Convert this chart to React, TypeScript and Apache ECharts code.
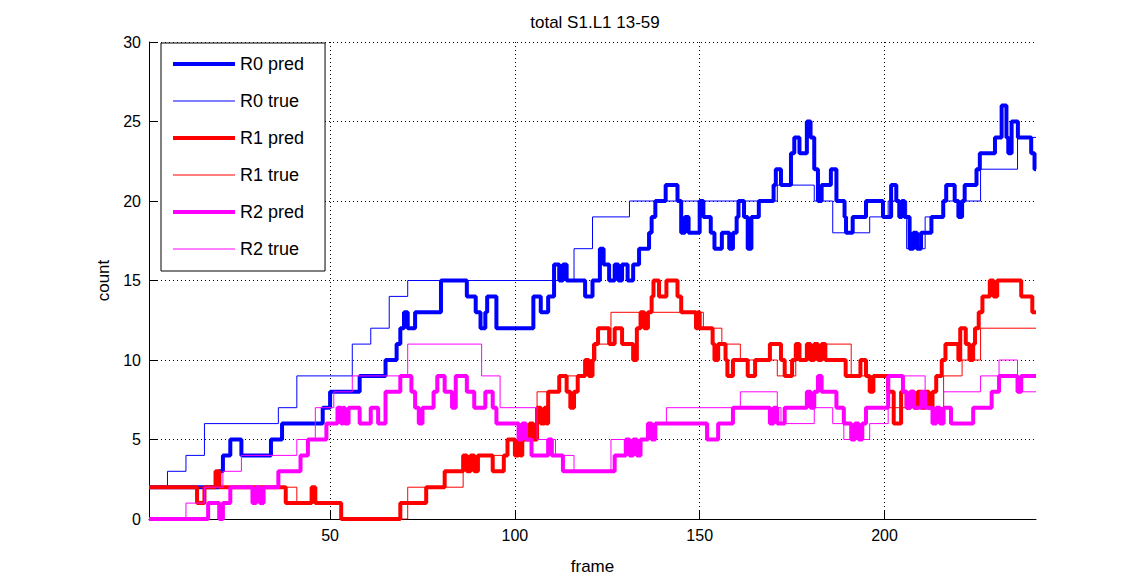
import React, { useEffect, useRef } from 'react';
import * as echarts from 'echarts';

const titleText = 'total S1.L1 13-59';
const xName = 'frame';
const yName = 'count';
const xTickValues = [50, 100, 150, 200];
const seriesNames = ['R0 pred', 'R0 true', 'R1 pred', 'R1 true', 'R2 pred', 'R2 true'];
const seriesColors = ['#0000ff', '#0000ff', '#ff0000', '#ff0000', '#ff00ff', '#ff00ff'];

// step data: [frame, count] at each change point
const r0Pred = [[1,2],[20,3],[21,4],[23,5],[26,4],[34,5],[37,6],[48,7],[50,8],[58,9],[65,10],[68,11],[69,12],[70,13],[71,12],[73,13],[80,15],[87,14],[89.4,13],[90.7,12],[92,13],[92.5,14],[95,12],[105,14],[107,13],[109,14],[110.6,16],[112,15],[113,16],[114,15],[119,14],[121,15],[123,17],[124,16],[125.5,15],[127,16],[128,15],[129,16],[130.5,15],[132,16],[133.6,17],[136.3,18],[137,19],[138,20],[140.8,21],[144,20],[145,18],[146,19],[147,18],[150,20],[151,19],[153,18],[154,17],[156,18],[158,17],[159,18],[160,19],[160.5,20],[162,19],[163,17],[164,19],[166,20],[170,21],[170.6,22],[172,21],[174.7,23],[175.6,24],[177,23],[179,25],[180,24],[181,22],[182,20],[183,21],[185.5,22],[187,20],[189.2,19],[189.6,18],[191.4,19],[195,20],[199.6,19],[201.8,21],[203.2,20],[204,19],[204.7,20],[205.4,19],[206.8,17],[207.8,18],[208.8,17],[209.9,18],[212.7,19],[215.9,20],[216.7,21],[219,20],[220,19],[221,20],[221.7,21],[224.9,22],[225.8,23],[229.9,24],[231.7,26],[233,24],[233.5,23],[234.4,25],[236.1,24],[239.7,23],[240.6,22],[241,22]];
const r0True = [[1,2],[6,3],[11,4],[16,6],[36,7],[41,9],[56,11],[61,12],[66,14],[71,15],[116,17],[121,19],[131,20],[171,21],[181,20],[186,18],[196,19],[201,20],[206,17],[211,19],[216,20],[226,22],[236,24],[241,24]];
const r1Pred = [[1,2],[14,1],[16,2],[19,3],[20,2],[38,1],[45,2],[46,1],[53,0],[69,1],[76,2],[81,3],[86,4],[87,3],[88,4],[89,3],[90,4],[94,3],[97,4],[98,5],[100,4],[101,5],[101.5,4],[102,5],[104,6],[105,5],[106,7],[107,6],[108,7],[108.5,6],[109,8],[112,9],[114,8],[115,7],[116,8],[117,9],[119,10],[120,9],[121,10],[121.5,11],[122.5,12],[125.5,11],[127,12],[129,11],[132,10],[133,12],[134,13],[135,12],[136,13],[137,14],[137.5,15],[139,14],[141,15],[144,14],[145,13],[149,12],[149.5,13],[150,12],[153.5,11],[154,10],[155,11],[157,10],[157.5,9],[159,10],[163,9],[165,10],[169,11],[172,10],[173,9],[175,10],[176,11],[177,10],[179,11],[180,10],[181,11],[182,10],[183,11],[184,10],[189.5,9],[193.5,10],[195,9],[196,8],[197,9],[201,8],[202.5,6],[204.5,8],[206,7],[207,8],[208,7],[209,8],[210,7],[211,8],[212,7],[213,8],[214,9],[215.5,10],[216.5,11],[220,10],[220.5,12],[222,11],[223,10],[224,11],[224.5,12],[225.5,13],[226.5,14],[228.5,15],[229.5,14],[230.5,15],[237,14],[240,13],[241,13]];
const r1True = [[1,2],[41,1],[53,0],[71,2],[86,4],[98,5],[104,6],[106,8],[112,9],[119,10],[121,11],[126,13],[151,12],[156,11],[161,10],[171,9],[176,10],[184,11],[191,9],[201,7],[216,9],[221,10],[226,12],[241,12]];
const r2Pred = [[1,0],[17,1],[20,0],[21,1],[23,2],[29,1],[30,2],[31,1],[32,2],[36,3],[42,4],[44,5],[49,6],[52,7],[53,6],[53.5,7],[54,6],[55,7],[58,6],[61,7],[63,6],[65,8],[69,9],[72,8],[73,7],[74,6],[75,7],[78,8],[79,9],[81,8],[83,7],[84,9],[87,8],[89,7],[92,8],[94,7],[95,6],[101,5],[102,6],[103,5],[104.5,4],[109,5],[110,4],[113,3],[127,4],[130,5],[131,4],[132,5],[133,4],[134,5],[136,6],[137,5],[138,6],[152,5],[155,6],[159,7],[169,6],[170,7],[171,6],[173,7],[179,8],[180,7],[181,8],[182,9],[183,8],[187,7],[189,6],[191,5],[192,6],[193,5],[194,6],[195,7],[201,9],[205,8],[206,7],[207,8],[208,7],[210,8],[211,7],[213,6],[214,7],[215,6],[216,7],[218,6],[224,7],[229,8],[231,9],[236,8],[237,9],[241,9]];
const r2True = [[1,0],[11,1],[16,2],[21,3],[26,4],[41,5],[46,7],[51,8],[56,9],[71,11],[91,9],[96,7],[106,5],[111,4],[116,3],[126,5],[136,6],[141,7],[161,8],[171,7],[172,6],[181,7],[186,6],[189,5],[196,6],[201,9],[211,7],[216,8],[226,9],[231,10],[236,8],[241,8]];

const seriesData = [r0Pred, r0True, r1Pred, r1True, r2Pred, r2True];
const FONT = '"Liberation Sans", Arial, Helvetica, sans-serif';

export default function App() {
  const ref = useRef<HTMLDivElement>(null);
  useEffect(() => {
    if (!ref.current) return;
    const chart = echarts.init(ref.current, undefined, { renderer: 'svg' });
    const option: any = {
      animation: false,
      backgroundColor: '#ffffff',
      title: {
        text: titleText,
        left: 590,
        top: 9,
        textAlign: 'center',
        textStyle: { fontFamily: FONT, fontSize: 17, fontWeight: 'normal', color: '#000' },
      },
      grid: { left: 149, right: 108, top: 42, bottom: 64 },
      legend: {
        orient: 'vertical',
        left: 161,
        top: 43,
        padding: [12, 21, 13, 12],
        itemWidth: 62,
        itemHeight: 17,
        itemGap: 19,
        symbolKeepAspect: true,
        borderColor: '#000',
        borderWidth: 1,
        borderRadius: 0,
        backgroundColor: '#ffffff',
        textStyle: { fontFamily: FONT, fontSize: 18, color: '#000', lineHeight: 17 },
        data: seriesNames.map((name, i) => ({
          name,
          icon: i % 2 === 0 ? 'path://M0,0H62V4H0Z' : 'path://M0,0H62V1H0Z',
          itemStyle: { color: seriesColors[i], borderWidth: 0 },
        })),
      },
      xAxis: {
        type: 'value',
        min: 1,
        max: 241,
        name: xName,
        nameLocation: 'middle',
        nameGap: 39,
        nameTextStyle: { fontFamily: FONT, fontSize: 17, color: '#000' },
        axisLine: { show: true, onZero: false, lineStyle: { color: '#000', width: 1 } },
        axisTick: { show: true, inside: true, length: 9, customValues: xTickValues, lineStyle: { color: '#000' } },
        axisLabel: { customValues: xTickValues, margin: 8, color: '#000', fontSize: 16, fontFamily: FONT },
        splitLine: { show: true, lineStyle: { color: '#000', width: 1, type: [1, 3] } },
      },
      yAxis: {
        type: 'value',
        min: 0,
        max: 30,
        interval: 5,
        name: yName,
        nameLocation: 'middle',
        nameRotate: 90,
        nameGap: 36,
        nameTextStyle: { fontFamily: FONT, fontSize: 17, color: '#000' },
        axisLine: { show: true, onZero: false, lineStyle: { color: '#000', width: 1 } },
        axisTick: { show: true, inside: true, length: 9, lineStyle: { color: '#000' } },
        axisLabel: { margin: 8, color: '#000', fontSize: 16, fontFamily: FONT },
        splitLine: { show: true, lineStyle: { color: '#000', width: 1, type: [1, 3] } },
      },
      series: seriesNames.map((name, i) => ({
        name,
        type: 'line',
        step: 'end',
        data: seriesData[i],
        symbol: 'none',
        showSymbol: false,
        color: seriesColors[i],
        itemStyle: { color: seriesColors[i] },
        lineStyle: { color: seriesColors[i], width: i % 2 === 0 ? 4 : 1 },
        emphasis: { disabled: true },
        clip: true,
      })),
    };
    chart.setOption(option);
    return () => chart.dispose();
  }, []);
  return <div ref={ref} style={{ position: 'fixed', left: 0, top: 0, width: 1144, height: 583 }} />;
}
